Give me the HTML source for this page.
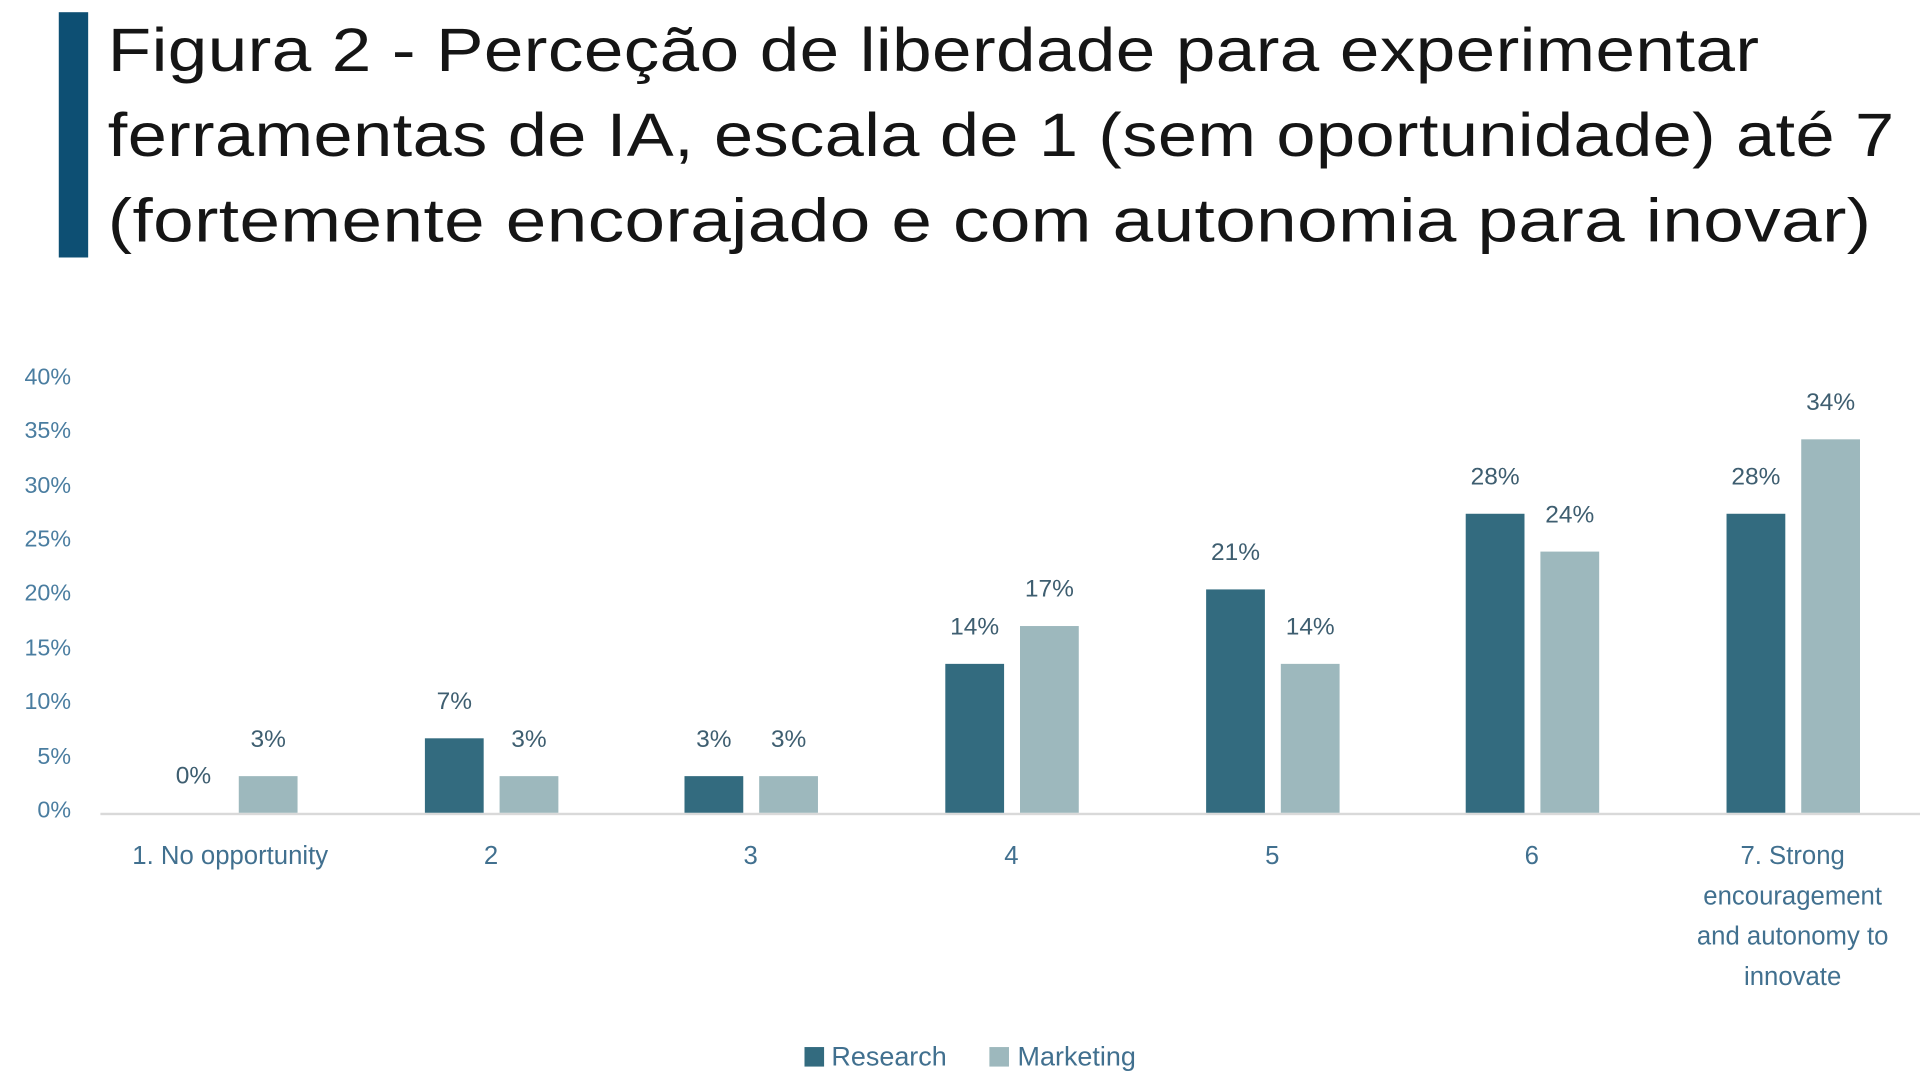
<!DOCTYPE html>
<html><head><meta charset="utf-8"><style>
html,body{margin:0;padding:0;background:#fff;overflow:hidden;width:1920px;height:1080px}
#s{position:absolute;left:0;top:0;width:1568px;height:885px;transform-origin:0 0;transform:scale(1.22449,1.22034);font-family:"Liberation Sans",sans-serif}
.a{position:absolute}
.t{font-size:50px;color:#151515;left:88px;line-height:70px;white-space:nowrap;letter-spacing:0.3px;transform-origin:0 0}
.y{font-size:19px;color:#4a7da0;width:50px;text-align:right;left:8px}
.x{font-size:21px;color:#41708f;text-align:center;width:220px;line-height:33px}
.v{font-size:20px;color:#3e5e70;text-align:center;width:60px}
.r{background:#336b7f;width:48px}
.m{background:#9db8bd;width:48px}
</style></head><body><div id="s">
<div class="a" style="left:48px;top:10px;width:24px;height:201px;background:#0d4f73"></div>
<div class="a t" style="top:6px;transform:scaleX(1.16)">Figura 2 - Perceção de liberdade para experimentar</div>
<div class="a t" style="top:76px;transform:scaleX(1.149)">ferramentas de IA, escala de 1 (sem oportunidade) até 7</div>
<div class="a t" style="top:146px;transform:scaleX(1.19)">(fortemente encorajado e com autonomia para inovar)</div>
<div id="c" class="a" style="left:0;top:3px;width:1568px;height:882px">
<div class="a" style="left:82px;top:663px;width:1486px;height:2px;background:#d9d9d9"></div>
<div id="g"></div>
<div class="a" style="left:657px;top:855px;width:16px;height:16px;background:#336b7f"></div>
<div class="a" style="left:679px;top:850px;font-size:22px;color:#41708f">Research</div>
<div class="a" style="left:808px;top:855px;width:16px;height:16px;background:#9db8bd"></div>
<div class="a" style="left:831px;top:850px;font-size:22px;color:#41708f">Marketing</div>
</div>
</div>
<script>
var g=document.getElementById('g'),h='';
for(var i=0;i<=8;i++){var y=663-i*44.4;h+='<div class="a y" style="top:'+(y-12)+'px">'+(i*5)+'%</div>';}
var c=[188,401,613,826,1039,1251,1464];
var rt=[663,602,633,541,480,418,418],mt=[633,633,633,510,541,449,357];
var rv=['0%','7%','3%','14%','21%','28%','28%'],mv=['3%','3%','3%','17%','14%','24%','34%'];
var xl=['1. No opportunity','2','3','4','5','6','7. Strong<br>encouragement<br>and autonomy to<br>innovate'];
for(var k=0;k<7;k++){
var rl=c[k]-54,ml=c[k]+7;
h+='<div class="a r" style="left:'+rl+'px;top:'+rt[k]+'px;height:'+(663-rt[k])+'px"></div>';
h+='<div class="a m" style="left:'+ml+'px;top:'+mt[k]+'px;height:'+(663-mt[k])+'px"></div>';
h+='<div class="a v" style="left:'+(rl-6)+'px;top:'+(rt[k]-41)+'px">'+rv[k]+'</div>';
h+='<div class="a v" style="left:'+(ml-6)+'px;top:'+(mt[k]-41)+'px">'+mv[k]+'</div>';
h+='<div class="a x" style="left:'+(c[k]-110)+'px;top:682px">'+xl[k]+'</div>';
}
g.innerHTML=h;
</script>
</body></html>
